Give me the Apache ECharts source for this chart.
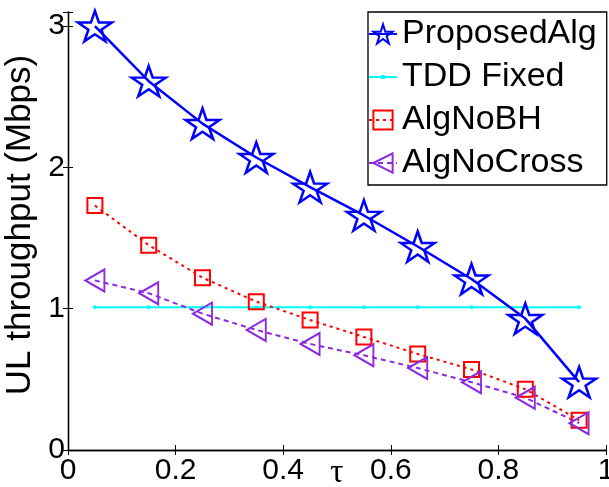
<!DOCTYPE html>
<html>
<head>
<meta charset="utf-8">
<script src="https://cdn.jsdelivr.net/npm/echarts@6/dist/echarts.min.js"></script>
<style>html,body{margin:0;padding:0;background:#fff}#c{width:609px;height:487px}</style>
</head>
<body>
<div id="c"></div>
<script>
const tau = [0.05, 0.15, 0.25, 0.35, 0.45, 0.55, 0.65, 0.75, 0.85, 0.95];
const proposedAlg = [3.0, 2.61, 2.31, 2.07, 1.86, 1.66, 1.44, 1.21, 0.93, 0.48];
const tddFixed = [1.01, 1.01, 1.01, 1.01, 1.01, 1.01, 1.01, 1.01, 1.01, 1.01];
const algNoBH = [1.73, 1.45, 1.22, 1.05, 0.92, 0.80, 0.68, 0.57, 0.43, 0.21];
const algNoCross = [1.20, 1.11, 0.965, 0.85, 0.75, 0.67, 0.58, 0.48, 0.37, 0.19];
const xTickLabels = ['0', '0.2', '0.4', '0.6', '0.8', '1'];
const yTickLabels = ['0', '1', '2', '3'];
const seriesNames = ['ProposedAlg', 'TDD Fixed', 'AlgNoBH', 'AlgNoCross'];

const pairs = ys => tau.map((x, i) => [x, ys[i]]);
const FONT = 'Liberation Sans';
const star = 'path://M50 0 L61.23 34.55 L97.55 34.55 L68.17 55.9 L79.39 90.45 L50 69.1 L20.61 90.45 L31.83 55.9 L2.45 34.55 L38.77 34.55 Z';
const lineDotIcon = 'path://M0 9 L28 9 L28 11 L0 11 Z M12 8 L16 8 L16 12 L12 12 Z';

const chart = echarts.init(document.getElementById('c'), null, {renderer: 'canvas'});
const axisLineStyle = {color: '#000', width: 1.3};
chart.setOption({
  animation: false,
  backgroundColor: '#fff',
  grid: {left: 68, right: 3, top: 12, bottom: 37, containLabel: false, outerBoundsMode: 'none'},
  legend: {
    orient: 'vertical',
    left: 368, top: 12,
    padding: [5, 10, 5, 0],
    itemWidth: 28, itemHeight: 24, itemGap: 9,
    borderColor: '#000', borderWidth: 1.3,
    backgroundColor: '#fff',
    textStyle: {fontFamily: FONT, fontSize: 34, lineHeight: 33, color: '#000'},
    data: [
      seriesNames[0],
      {name: seriesNames[1], icon: lineDotIcon, itemStyle: {color: '#00FFFF'}},
      seriesNames[2],
      seriesNames[3]
    ]
  },
  xAxis: [{
    type: 'value', min: 0, max: 1, interval: 0.2,
    name: 'τ', nameLocation: 'middle', nameGap: 7, nameMoveOverlap: false,
    nameTextStyle: {fontFamily: 'Liberation Serif', fontSize: 33, color: '#000', verticalAlign: 'top'},
    axisLine: {lineStyle: axisLineStyle},
    axisTick: {inside: true, length: 5, lineStyle: {color: '#000'}},
    axisLabel: {fontFamily: FONT, fontSize: 30, color: '#000', margin: 6,
      formatter: v => { const s = String(+v.toFixed(1)); return xTickLabels.includes(s) ? s : ''; }},
    splitLine: {show: false}
  }, {
    type: 'value', min: 0, max: 1, interval: 0.2, position: 'top',
    axisLine: {lineStyle: axisLineStyle},
    axisTick: {inside: true, length: 5, lineStyle: {color: '#000'}},
    axisLabel: {show: false}, splitLine: {show: false}
  }],
  yAxis: [{
    type: 'value', min: 0, max: 3.1, interval: 1,
    name: 'UL throughput (Mbps)', nameLocation: 'middle', nameGap: 22, nameRotate: 90,
    nameTextStyle: {fontFamily: FONT, fontSize: 35, color: '#000', padding: [0, 0, 0, 12]},
    axisLine: {show: true, lineStyle: axisLineStyle},
    axisTick: {show: true, inside: true, length: 5, lineStyle: {color: '#000'}},
    axisLabel: {fontFamily: FONT, fontSize: 30, color: '#000', margin: 3,
      formatter: v => { const s = String(+v.toFixed(1)); return yTickLabels.includes(s) ? s : ''; }},
    splitLine: {show: false}
  }, {
    type: 'value', min: 0, max: 3.1, interval: 1, position: 'right',
    axisLine: {show: true, lineStyle: axisLineStyle},
    axisTick: {show: true, inside: true, length: 5, lineStyle: {color: '#000'}},
    axisLabel: {show: false}, splitLine: {show: false}
  }],
  series: [
    {
      name: seriesNames[1], type: 'line', data: pairs(tddFixed),
      symbol: 'circle', symbolSize: 4, z: 2,
      lineStyle: {color: '#00FFFF', width: 2},
      itemStyle: {color: '#00FFFF'}
    },
    {
      name: seriesNames[2], type: 'line', data: pairs(algNoBH),
      symbol: 'rect', symbolSize: 15, z: 3,
      lineStyle: {color: '#FF0000', width: 2, type: [3, 4]},
      itemStyle: {color: 'rgba(255,255,255,0)', borderColor: '#FF0000', borderWidth: 2}
    },
    {
      name: seriesNames[3], type: 'line', data: pairs(algNoCross),
      symbol: 'triangle', symbolRotate: 90, symbolSize: [22, 19], z: 3,
      lineStyle: {color: '#8A2BE2', width: 2, type: [5, 4]},
      itemStyle: {color: 'rgba(255,255,255,0)', borderColor: '#8A2BE2', borderWidth: 2}
    },
    {
      name: seriesNames[0], type: 'line', data: pairs(proposedAlg),
      symbol: star, symbolKeepAspect: true, symbolSize: [34, 32], z: 4,
      lineStyle: {color: '#0000FF', width: 2.5},
      itemStyle: {color: 'rgba(255,255,255,0)', borderColor: '#0000FF', borderWidth: 2.5}
    }
  ]
});
</script>
</body>
</html>
